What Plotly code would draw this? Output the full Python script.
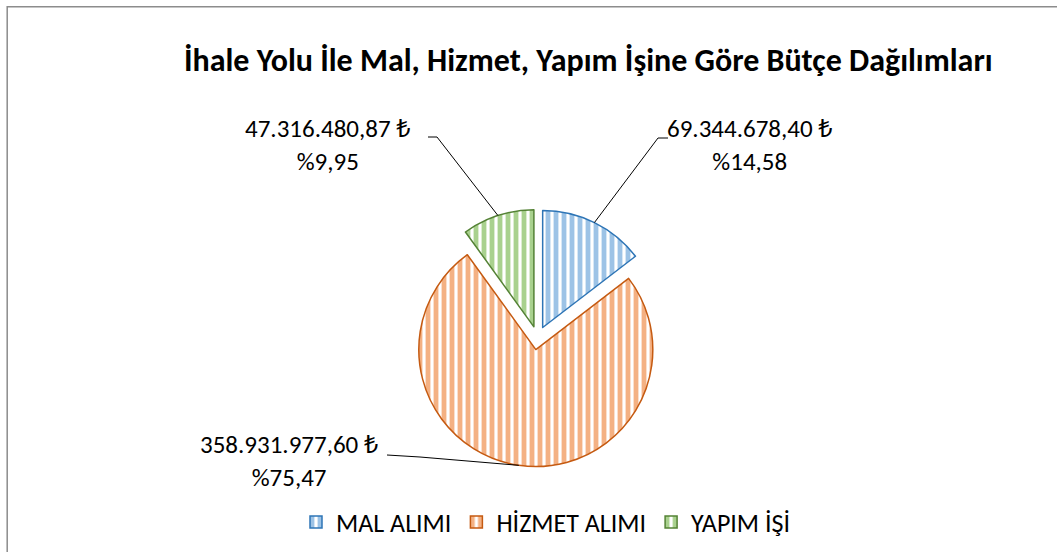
import math
import plotly.graph_objects as go

W, H = 1057, 552

# ---- data ----
categories = ["MAL ALIMI", "HİZMET ALIMI", "YAPIM İŞİ"]
values = [69344678.40, 358931977.60, 47316480.87]
value_labels = ["69.344.678,40 ₺", "358.931.977,60 ₺", "47.316.480,87 ₺"]
pct_labels = ["%14,58", "%75,47", "%9,95"]
title_text = "İhale Yolu İle Mal, Hizmet, Yapım İşine Göre Bütçe Dağılımları"

# ---- styles ----
fill_colors = ["#9DC3E6", "#F4B183", "#A9D18E"]
line_colors = ["#2E75B6", "#C55A11", "#548235"]
FONT = "Carlito, Calibri, 'Liberation Sans', 'Noto Sans', sans-serif"

# pie geometry (screen pixels)
CX, CY, R = 537.5, 338.0, 117.0
PULL = 0.1
half = R * (1 + PULL)

def px(x):
    return x / W

def py(y):
    return 1 - y / H

fig = go.Figure(go.Pie(
    labels=categories,
    values=values,
    sort=False,
    direction="clockwise",
    rotation=0,
    pull=[PULL] * 3,
    textinfo="none",
    hoverinfo="label+value+percent",
    marker=dict(
        colors=fill_colors,
        line=dict(color=line_colors, width=1.5),
        pattern=dict(shape="|", fillmode="replace", bgcolor="white",
                     fgcolor=fill_colors, size=8, solidity=0.6),
    ),
    domain=dict(x=[px(CX - half), px(CX + half)], y=[py(CY + half), py(CY - half)]),
))

# slice mid angles computed from data
total = sum(values)
cum = 0
mids = []
for v in values:
    a0 = cum / total * 360
    cum += v
    a1 = cum / total * 360
    mids.append(math.radians((a0 + a1) / 2))

def arc_point(i):
    m = mids[i]
    ox = CX + R * PULL * math.sin(m)
    oy = CY - R * PULL * math.cos(m)
    return ox + R * math.sin(m), oy - R * math.cos(m)

# label layout (screen pixels): elbow, end of horizontal, text center
label_layout = [
    dict(elbow=(658, 138), end=(668, 138), tx=750, ty=145),
    dict(elbow=(420, 457), end=(387, 455), tx=289, ty=461),
    dict(elbow=(437, 137), end=(428, 137), tx=328, ty=145),
]

shapes = []
annotations = []
for i in range(3):
    ax_, ay_ = arc_point(i)
    L = label_layout[i]
    ex, ey = L["elbow"]
    hx, hy = L["end"]
    path = f"M {px(ax_)} {py(ay_)} L {px(ex)} {py(ey)} L {px(hx)} {py(hy)}"
    shapes.append(dict(type="path", xref="paper", yref="paper", path=path,
                       line=dict(color="black", width=1)))
    annotations.append(dict(
        x=px(L["tx"]), y=py(L["ty"]), xref="paper", yref="paper",
        text=f"{value_labels[i]}<br>{pct_labels[i]}", showarrow=False,
        xanchor="center", yanchor="middle", align="center",
        font=dict(family=FONT, size=25, color="#000000"),
    ))

# chart border
shapes.append(dict(type="rect", xref="paper", yref="paper",
                   x0=px(7.2), y0=py(580), x1=px(1080), y1=py(6.8),
                   line=dict(color="#8C8C8C", width=1.5), fillcolor="rgba(0,0,0,0)"))

annotations.append(dict(
    x=px(588), y=py(60), xref="paper", yref="paper", text=f"<b>{title_text}</b>",
    showarrow=False, xanchor="center", yanchor="middle",
    font=dict(family=FONT, size=32, color="#000000"),
))

fig.update_layout(
    width=W, height=H,
    margin=dict(l=0, r=0, t=0, b=0),
    paper_bgcolor="white",
    plot_bgcolor="white",
    shapes=shapes,
    annotations=annotations,
    showlegend=True,
    legend=dict(orientation="h", x=px(546), xanchor="center", y=py(522), yanchor="middle",
                font=dict(family=FONT, size=26, color="#000000"),
                itemwidth=30, traceorder="normal"),
)

fig.write_html("out.html",
               config={"displayModeBar": False},
               post_script="document.body.style.margin='0px';document.body.style.overflow='hidden';")
